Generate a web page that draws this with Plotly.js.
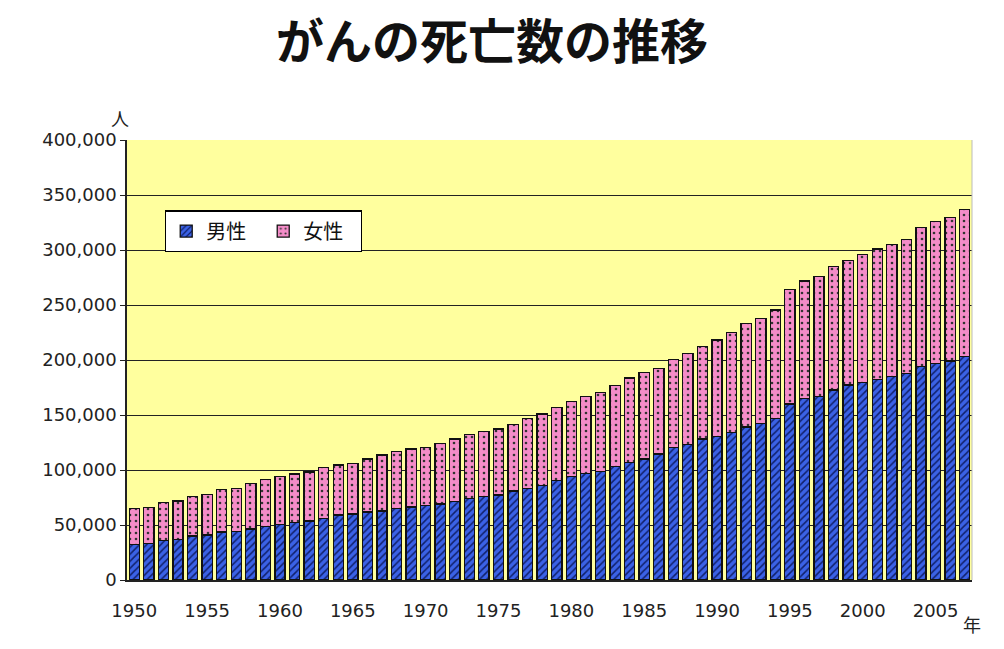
<!DOCTYPE html>
<html>
<head>
<meta charset="utf-8">
<script src="https://cdn.plot.ly/plotly-3.0.1.min.js"></script>
<style>
  body { margin: 0; background: #fff; }
  #chart { width: 1004px; height: 649px; }
</style>
</head>
<body>
<div id="chart"></div>
<script>
// がんの死亡数 (人)
const years = [];
for (let y = 1950; y <= 2007; y++) years.push(y);

const male = [
  32000, 33400, 35700, 37000, 40000, 40900, 43600, 44200, 46400, 48500,
  50600, 52100, 53600, 56100, 59100, 60000, 61800, 62700, 65200, 66400,
  67500, 69100, 71600, 74000, 75800, 77300, 80900, 83400, 86200, 90200,
  93900, 97000, 98800, 103000, 107000, 110000, 114500, 120300, 123300, 128200,
  130500, 134200, 139000, 142300, 147000, 160000, 165200, 166700, 172700, 177300,
  179700, 182400, 184800, 187900, 194000, 197000, 199100, 203000
];
const female = [
  33000, 32700, 34600, 34800, 35800, 37000, 38500, 39200, 41100, 43000,
  43300, 44300, 44600, 46000, 45400, 46100, 48200, 50900, 51800, 52700,
  52800, 55200, 56600, 58500, 59000, 60000, 60300, 63200, 64700, 66800,
  68200, 69600, 71500, 73600, 76600, 78500, 77900, 80300, 82400, 84200,
  87700, 90600, 94300, 95600, 98500, 104300, 106600, 109100, 112100, 113000,
  116100, 118500, 120000, 121900, 126600, 129200, 130400, 133600
];
const yTicks = [0, 50000, 100000, 150000, 200000, 250000, 300000, 350000, 400000];
const yTickText = ['0', '50,000', '100,000', '150,000', '200,000', '250,000', '300,000', '350,000', '400,000'];
const xTicks = [1950, 1955, 1960, 1965, 1970, 1975, 1980, 1985, 1990, 1995, 2000, 2005];

const font = 'DejaVu Sans, Noto Sans CJK JP, sans-serif';
const jpFont = 'Noto Sans CJK JP, sans-serif';

let data = [
  {
    x: years, y: male, name: '男性', type: 'bar',
    marker: {
      color: '#3b62e6',
      line: {color: '#111', width: 1.3},
      pattern: {shape: '/', fgcolor: '#10206a', bgcolor: '#3b62e6', size: 5, solidity: 0.3}
    }
  },
  {
    x: years, y: female, name: '女性', type: 'bar',
    marker: {
      color: '#f48cc8',
      line: {color: '#111', width: 1.3},
      pattern: {shape: '.', fgcolor: '#333', bgcolor: '#f48cc8', size: 6, solidity: 0.15}
    }
  }
];

let layout = {
  width: 1004, height: 649,
  margin: {l: 127, r: 32, t: 140, b: 69},
  paper_bgcolor: '#ffffff',
  plot_bgcolor: '#ffff9e',
  barmode: 'stack',
  bargap: 0.3,
  showlegend: true,
  font: {family: font, size: 18, color: '#222'},
  title: {
    text: '<b>がんの死亡数の推移</b>',
    font: {family: jpFont, size: 48, color: '#111'},
    x: 0.49, xanchor: 'center', y: 0.935, yanchor: 'middle'
  },
  legend: {
    x: 0.045, y: 0.84, xanchor: 'left', yanchor: 'top',
    orientation: 'h', traceorder: 'normal',
    entrywidth: 52,
    itemwidth: 30,
    bgcolor: '#ffffff', bordercolor: '#000', borderwidth: 1.2,
    font: {family: jpFont, size: 20, color: '#111'}
  },
  xaxis: {
    range: [1949.5, 2007.5],
    tickvals: xTicks,
    ticks: '', showgrid: false, zeroline: false,
    ticklabelstandoff: 14,
    showline: true, linecolor: '#222', linewidth: 1.5,
    tickfont: {family: font, size: 18, color: '#222'}
  },
  yaxis: {
    range: [0, 400000],
    tickvals: yTicks, ticktext: yTickText,
    ticks: 'outside', ticklen: 5, tickcolor: '#222',
    showgrid: true, gridcolor: '#222', gridwidth: 1.3,
    zeroline: false, showline: true, linecolor: '#222', linewidth: 1.5,
    mirror: false,
    tickfont: {family: font, size: 18, color: '#222'}
  },
  annotations: [
    {text: '人', xref: 'paper', yref: 'paper', x: -0.008, y: 1.015, xanchor: 'center', yanchor: 'bottom',
     showarrow: false, font: {family: jpFont, size: 18, color: '#222'}},
    {text: '年', xref: 'paper', yref: 'paper', x: 1.0, y: -0.065, xanchor: 'center', yanchor: 'top',
     showarrow: false, font: {family: jpFont, size: 18, color: '#222'}}
  ],
  shapes: [
    {type: 'line', xref: 'paper', yref: 'paper', x0: 1, x1: 1, y0: 0, y1: 1, line: {color: '#bbb', width: 1}}
  ]
};

Plotly.newPlot('chart', data, layout, {displayModeBar: false});
</script>
</body>
</html>
